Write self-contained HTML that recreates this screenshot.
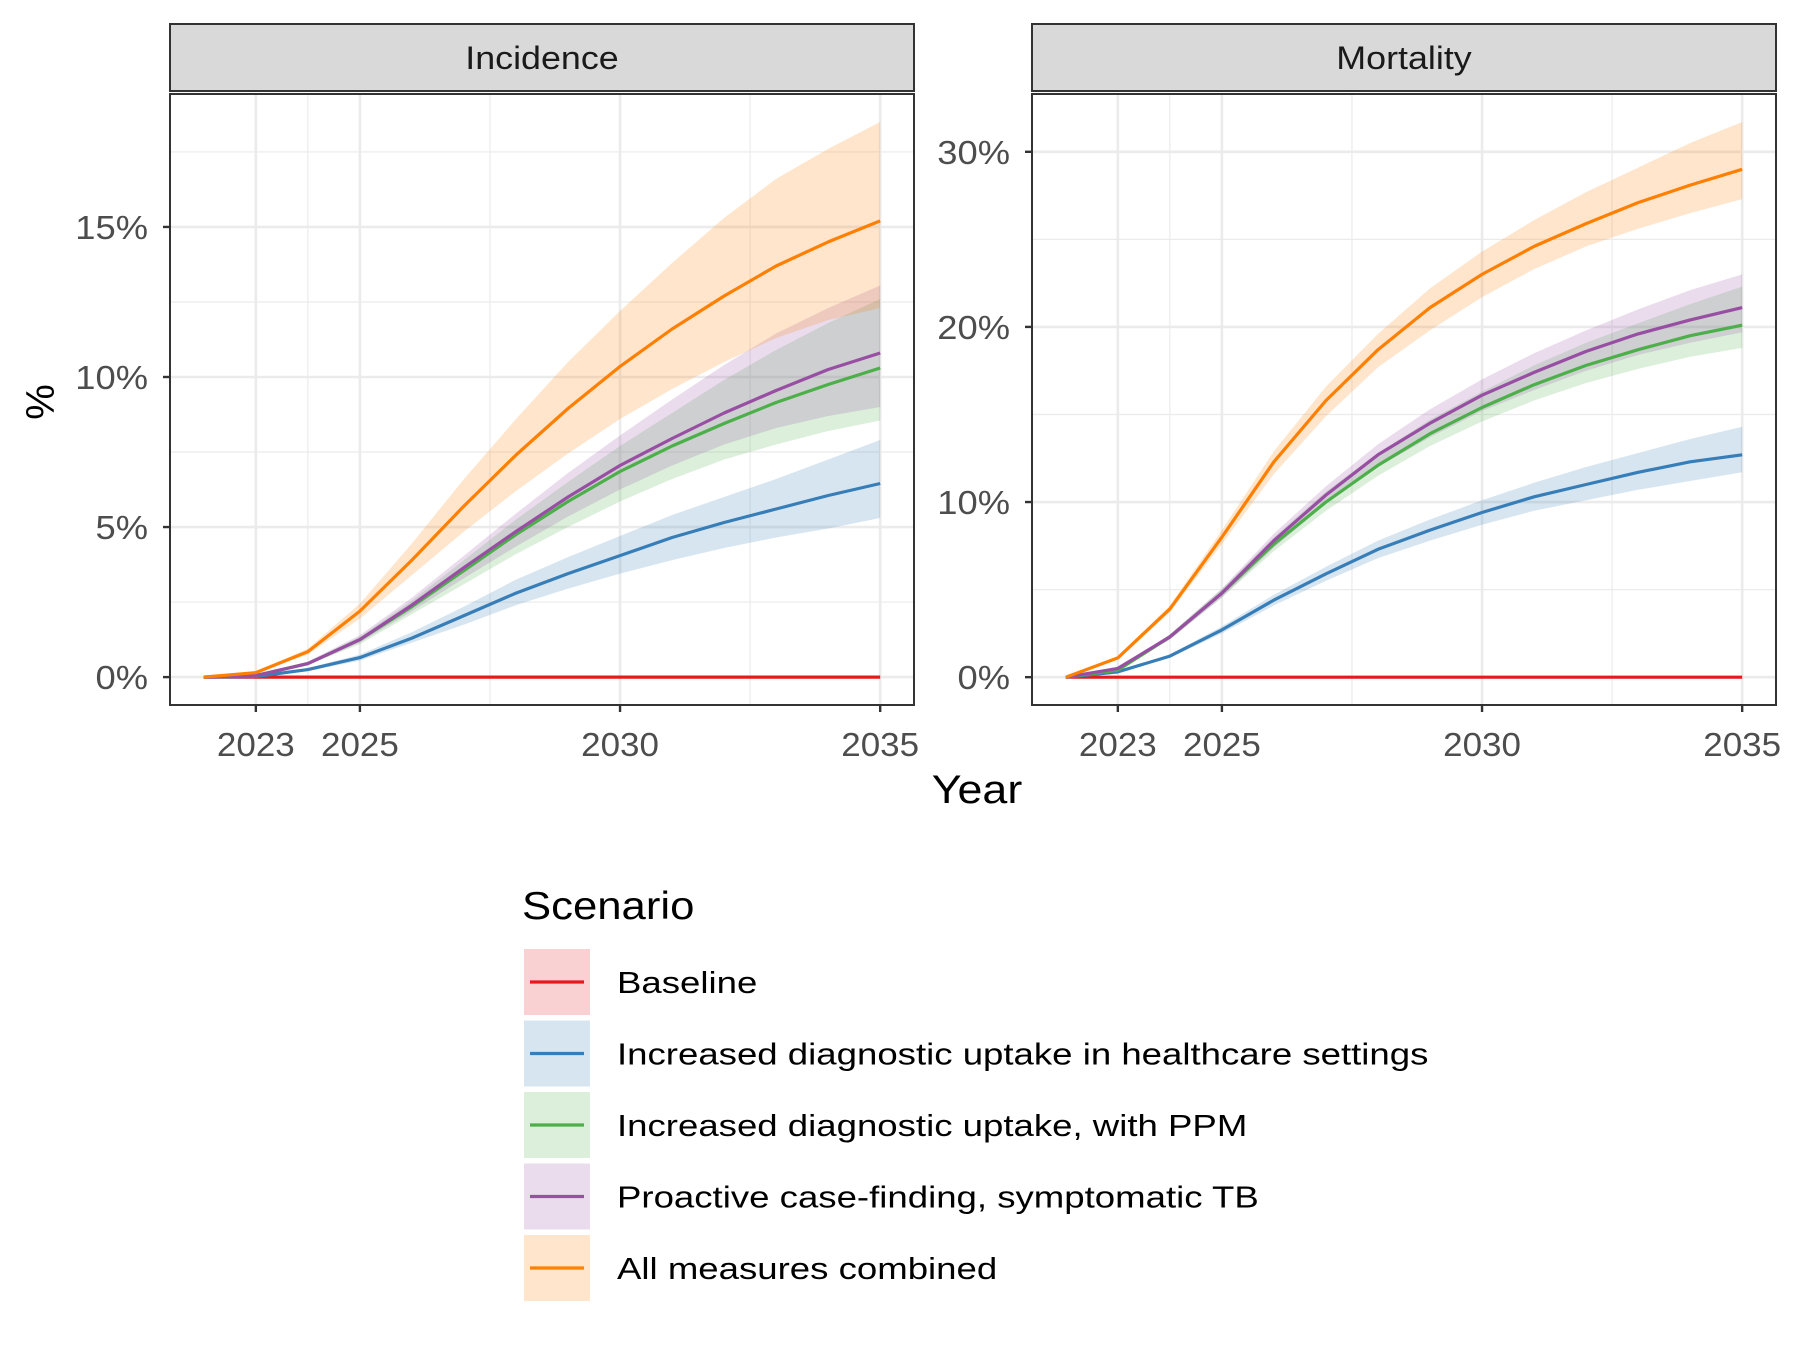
<!DOCTYPE html>
<html><head><meta charset="utf-8"><style>
body{margin:0;background:#fff;}
svg text{font-family:"Liberation Sans",Arial,sans-serif;}
</style></head><body>
<svg id="chart" width="1800" height="1350" viewBox="0 0 1800 1350" xmlns="http://www.w3.org/2000/svg">
<g id="panels"></g>
<text x="977" y="803" font-size="40" text-anchor="middle" fill="#000" data-sx="1.12">Year</text>
<text transform="translate(54,402) rotate(-90)" font-size="40" text-anchor="middle" fill="#000">%</text>
<g id="legend">
<text x="522" y="919" font-size="39" fill="#000" data-sx="1.12">Scenario</text>
</g>
</svg>
<script>
const years=[2022,2023,2024,2025,2026,2027,2028,2029,2030,2031,2032,2033,2034,2035];
const scenarioNames=["Baseline","Increased diagnostic uptake in healthcare settings","Increased diagnostic uptake, with PPM","Proactive case-finding, symptomatic TB","All measures combined"];
const colors=["#E41A1C","#377EB8","#4DAF4A","#984EA3","#FF7F00"];
const xTicks=[2023,2025,2030,2035];
const xMinor=[2021,2024,2027.5,2032.5];
// Incidence
const incBaseline=[0,0,0,0,0,0,0,0,0,0,0,0,0,0];
const incBlue=[0,0.02,0.25,0.65,1.3,2.05,2.8,3.45,4.05,4.65,5.15,5.6,6.05,6.45];
const incBlueLo=[0,0.01,0.2,0.55,1.15,1.75,2.4,2.95,3.45,3.9,4.3,4.65,4.95,5.3];
const incBlueHi=[0,0.03,0.3,0.75,1.5,2.35,3.25,4.0,4.7,5.4,6.0,6.6,7.25,7.9];
const incGreen=[0,0.05,0.45,1.25,2.35,3.55,4.75,5.85,6.85,7.7,8.45,9.15,9.75,10.3];
const incGreenLo=[0,0.04,0.4,1.1,2.1,3.1,4.1,5.0,5.85,6.6,7.25,7.75,8.2,8.55];
const incGreenHi=[0,0.06,0.5,1.35,2.55,3.9,5.25,6.5,7.7,8.8,9.9,10.9,11.8,12.6];
const incPurple=[0,0.05,0.45,1.25,2.4,3.65,4.85,6.0,7.05,7.95,8.8,9.55,10.25,10.8];
const incPurpleLo=[0,0.04,0.4,1.15,2.2,3.3,4.35,5.35,6.25,7.05,7.75,8.3,8.7,9.0];
const incPurpleHi=[0,0.06,0.52,1.4,2.65,4.05,5.45,6.8,8.05,9.25,10.4,11.45,12.3,13.05];
const incOrange=[0,0.15,0.85,2.2,3.9,5.7,7.4,8.95,10.35,11.6,12.7,13.7,14.5,15.2];
const incOrangeLo=[0,0.13,0.75,1.95,3.4,4.85,6.2,7.45,8.6,9.6,10.5,11.3,11.9,12.3];
const incOrangeHi=[0,0.17,0.95,2.45,4.45,6.6,8.6,10.5,12.2,13.8,15.3,16.6,17.6,18.5];
const incTicks=[0,5,10,15];
const incMinor=[2.5,7.5,12.5,17.5];
// Mortality
const morBaseline=[0,0,0,0,0,0,0,0,0,0,0,0,0,0];
const morBlue=[0,0.3,1.2,2.7,4.4,5.9,7.3,8.4,9.4,10.3,11.0,11.7,12.3,12.7];
const morBlueLo=[0,0.25,1.1,2.5,4.1,5.5,6.8,7.8,8.7,9.5,10.1,10.7,11.2,11.7];
const morBlueHi=[0,0.35,1.3,2.9,4.7,6.3,7.8,9.0,10.1,11.1,12.0,12.8,13.6,14.3];
const morGreen=[0,0.4,2.3,4.8,7.6,10.0,12.1,13.9,15.4,16.7,17.8,18.7,19.5,20.1];
const morGreenLo=[0,0.35,2.15,4.55,7.2,9.5,11.5,13.2,14.6,15.8,16.8,17.6,18.3,18.8];
const morGreenHi=[0,0.45,2.45,5.05,8.0,10.6,12.8,14.7,16.3,17.8,19.1,20.2,21.3,22.3];
const morPurple=[0,0.5,2.3,4.8,7.8,10.4,12.7,14.5,16.1,17.4,18.6,19.6,20.4,21.1];
const morPurpleLo=[0,0.45,2.15,4.55,7.4,9.9,12.0,13.7,15.2,16.4,17.5,18.4,19.1,19.7];
const morPurpleHi=[0,0.55,2.45,5.05,8.2,10.9,13.3,15.3,17.0,18.5,19.8,21.0,22.1,23.0];
const morOrange=[0,1.1,3.9,8.0,12.3,15.8,18.7,21.1,23.0,24.6,25.9,27.1,28.1,29.0];
const morOrangeLo=[0,1.0,3.7,7.6,11.6,14.9,17.7,19.8,21.7,23.3,24.6,25.6,26.5,27.3];
const morOrangeHi=[0,1.2,4.1,8.4,12.9,16.6,19.6,22.2,24.3,26.1,27.7,29.1,30.5,31.7];
const morTicks=[0,10,20,30];
const morMinor=[5,15,25];

const NS="http://www.w3.org/2000/svg";
function mk(tag,attrs,parent){const e=document.createElementNS(NS,tag);for(const k in attrs)e.setAttribute(k,attrs[k]);parent.appendChild(e);return e;}
const root=document.getElementById('panels');

const panels=[
 {title:"Incidence",name:"incidence",x0:170,x1:914,ymin:-0.93,ymax:19.43,ticks:incTicks,minor:incMinor,
  series:[[incBaseline,incBaseline,incBaseline],[incBlue,incBlueLo,incBlueHi],[incGreen,incGreenLo,incGreenHi],[incPurple,incPurpleLo,incPurpleHi],[incOrange,incOrangeLo,incOrangeHi]]},
 {title:"Mortality",name:"mortality",x0:1032,x1:1776,ymin:-1.59,ymax:33.3,ticks:morTicks,minor:morMinor,
  series:[[morBaseline,morBaseline,morBaseline],[morBlue,morBlueLo,morBlueHi],[morGreen,morGreenLo,morGreenHi],[morPurple,morPurpleLo,morPurpleHi],[morOrange,morOrangeLo,morOrangeHi]]}
];
const PT=94,PB=705;
panels.forEach(p=>{
 const g=mk('g',{},root);
 
 
 const xs=v=>p.x0+(v-2021.35)/(2035.65-2021.35)*(p.x1-p.x0);
 const ys=v=>PB-(v-p.ymin)/(p.ymax-p.ymin)*(PB-PT);
 const st=mk('rect',{x:p.x0,y:24,width:p.x1-p.x0,height:67,fill:"#d9d9d9",stroke:"#333",'stroke-width':2},g);
 
 
 const stt=mk('text',{x:(p.x0+p.x1)/2,y:69,'font-size':32,'text-anchor':'middle',fill:'#1a1a1a','data-sx':1.12},g);
 stt.textContent=p.title;
 
 
 mk('rect',{x:p.x0,y:PT,width:p.x1-p.x0,height:PB-PT,fill:"#fff"},g);
 p.minor.forEach(v=>{mk('line',{x1:p.x0,x2:p.x1,y1:ys(v),y2:ys(v),stroke:"#ebebeb",'stroke-width':1.2},g);});
 xMinor.forEach(v=>{const x=xs(v);if(x>p.x0)mk('line',{x1:x,x2:x,y1:PT,y2:PB,stroke:"#ebebeb",'stroke-width':1.2},g);});
 p.ticks.forEach(v=>{mk('line',{x1:p.x0,x2:p.x1,y1:ys(v),y2:ys(v),stroke:"#ebebeb",'stroke-width':2.6},g);});
 xTicks.forEach(v=>{mk('line',{x1:xs(v),x2:xs(v),y1:PT,y2:PB,stroke:"#ebebeb",'stroke-width':2.6},g);});
 p.series.forEach((s,i)=>{
  if(i===0)return;
  let d="";
  years.forEach((yr,j)=>{d+=(j?"L":"M")+xs(yr).toFixed(1)+","+ys(s[2][j]).toFixed(1);});
  for(let j=years.length-1;j>=0;j--)d+="L"+xs(years[j]).toFixed(1)+","+ys(s[1][j]).toFixed(1);
  const r=mk('path',{d:d+"Z",fill:colors[i],'fill-opacity':0.2},g);
  
  
 });
 p.series.forEach((s,i)=>{
  const pts=years.map((yr,j)=>xs(yr).toFixed(1)+","+ys(s[0][j]).toFixed(1)).join(" ");
  const l=mk('polyline',{points:pts,fill:"none",stroke:colors[i],'stroke-width':3.2,'stroke-linejoin':'round'},g);
  
  
 });
 mk('rect',{x:p.x0,y:PT,width:p.x1-p.x0,height:PB-PT,fill:"none",stroke:"#333",'stroke-width':2},g);
 p.ticks.forEach(v=>{
  const y=ys(v);
  mk('line',{x1:p.x0-7,x2:p.x0,y1:y,y2:y,stroke:"#333",'stroke-width':2.4},g);
  const t=mk('text',{x:p.x0-22,y:y+12,'font-size':33,'text-anchor':'end',fill:'#4d4d4d','data-sx':1.1},g);
  t.textContent=v+"%";
  
  
 });
 xTicks.forEach(v=>{
  const x=xs(v);
  mk('line',{x1:x,x2:x,y1:PB,y2:PB+7,stroke:"#333",'stroke-width':2.4},g);
  const t=mk('text',{x:x,y:756,'font-size':33,'text-anchor':'middle',fill:'#4d4d4d','data-sx':1.06},g);
  t.textContent=v;
  
  
 });
});
const lg=document.getElementById('legend');
scenarioNames.forEach((n,i)=>{
 const cy=982+i*71.5;
 const e=mk('g',{},lg);
 
 
 mk('rect',{x:524,y:cy-33,width:66,height:66,fill:colors[i],'fill-opacity':0.2},e);
 mk('line',{x1:530,x2:584,y1:cy,y2:cy,stroke:colors[i],'stroke-width':3.2},e);
 const t=mk('text',{x:617,y:cy+11,'font-size':31,fill:'#000','data-sx':1.18},e);
 t.textContent=n;
});
document.querySelectorAll('text[data-sx]').forEach(t=>{
 const w=t.getComputedTextLength();
 t.setAttribute('textLength',(w*parseFloat(t.getAttribute('data-sx'))).toFixed(1));
 t.setAttribute('lengthAdjust','spacingAndGlyphs');
});
</script>
</body></html>
